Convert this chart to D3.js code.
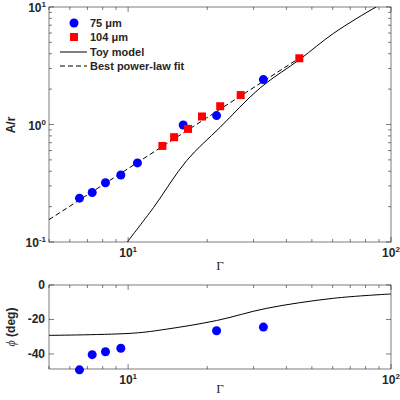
<!DOCTYPE html>
<html><head><meta charset="utf-8">
<script src="https://cdn.jsdelivr.net/npm/d3@7"></script>
<style>body{margin:0;background:#fff}svg{font-family:"Liberation Sans",Arial,sans-serif}</style>
</head><body>
<svg id="chart" width="400" height="400"></svg>
<script>
// 75 um data (amplitude)
var blueG = [6.53, 7.3, 8.2, 9.38, 10.85, 16.2, 21.7, 32.7];
var blueA = [0.236, 0.264, 0.319, 0.372, 0.471, 0.99, 1.19, 2.41];
// 104 um data
var redG = [13.5, 14.96, 16.9, 19.1, 22.4, 26.8, 44.8];
var redA = [0.657, 0.78, 0.918, 1.17, 1.43, 1.78, 3.66];
// toy model
var toyG = [9.89, 12.48, 16.7, 22.4, 31.8, 45.1, 60.4, 88.1, 100];
var toyA = [0.099, 0.196, 0.493, 0.948, 2.05, 3.6, 5.96, 10.05, 11.6];
// power law fit end points
var fitG = [5, 45];
var fitA = [0.155, 3.7];
// phase
var phaseG = [6.53, 7.3, 8.2, 9.38, 21.7, 32.7];
var phaseV = [-49.2, -40.4, -38.7, -36.7, -26.5, -24.4];
var toyPhG = [5, 10.5, 14, 21.7, 33.7, 60.4, 100];
var toyPhV = [-29.2, -27.9, -25.6, -20.6, -13.5, -7.7, -5.2];

var svg = d3.select('#chart');
var left = 49, right = 391;
var x = d3.scaleLog().domain([5, 100]).range([left, right]);
var y = d3.scaleLog().domain([0.1, 10]).range([242, 7]);
var y2 = d3.scaleLinear().domain([-48.7, 0]).range([369, 285]);

function minorTicks(sc) {
    var out = [];
    var d = sc.domain();
    for (var e = -2; e < 3; e++) for (var k = 1; k < 10; k++) {
        var v = k * Math.pow(10, e);
        if (v > d[0] * 0.999 && v < d[1] * 1.001) out.push(v);
    }
    return out;
}
function sup(sel, v) {
    var e = Math.round(Math.log10(v));
    sel.text('10').append('tspan').attr('dy', -5).attr('font-size', 8).text(e);
}

function frame(ys, t, b, logY) {
    var g = svg.append('g').attr('stroke', '#262626').attr('stroke-width', 0.6);
    g.append('rect').attr('x', left).attr('y', t).attr('width', right - left).attr('height', b - t).attr('fill', 'none');
    minorTicks(x).forEach(function (v) {
        var L = [10, 100].indexOf(v) >= 0 ? 5 : 3;
        g.append('line').attr('x1', x(v)).attr('x2', x(v)).attr('y1', b).attr('y2', b - L);
        g.append('line').attr('x1', x(v)).attr('x2', x(v)).attr('y1', t).attr('y2', t + L);
    });
    var yt = logY ? minorTicks(ys) : [-40, -20, 0];
    yt.forEach(function (v) {
        var L = (!logY || [0.1, 1, 10].indexOf(v) >= 0) ? 5 : 3;
        g.append('line').attr('y1', ys(v)).attr('y2', ys(v)).attr('x1', left).attr('x2', left + L);
        g.append('line').attr('y1', ys(v)).attr('y2', ys(v)).attr('x1', right).attr('x2', right - L);
    });
    [10, 100].forEach(function (v) {
        svg.append('text').attr('x', x(v)).attr('y', b + 15).attr('text-anchor', 'middle')
            .attr('font-size', 12).attr('font-weight', 'bold').attr('fill', '#262626').call(sup, v);
    });
}

frame(y, 7, 242, true);
[0.1, 1, 10].forEach(function (v) {
    svg.append('text').attr('x', left - 3).attr('y', y(v) + 5).attr('text-anchor', 'end')
        .attr('font-size', 12).attr('font-weight', 'bold').attr('fill', '#262626').call(sup, v);
});
frame(y2, 285, 369, false);
[-40, -20, 0].forEach(function (v) {
    svg.append('text').attr('x', left - 4).attr('y', y2(v) + 4).attr('text-anchor', 'end')
        .attr('font-size', 12).attr('font-weight', 'bold').attr('fill', '#262626').text(v);
});

svg.append('clipPath').attr('id', 'ct').append('rect').attr('x', left).attr('y', 7).attr('width', right - left).attr('height', 235);
var line = d3.line().x(function (d) { return x(d[0]); }).y(function (d) { return y(d[1]); }).curve(d3.curveCatmullRom);
var topG = svg.append('g').attr('clip-path', 'url(#ct)');
topG.append('path').attr('d', line(d3.zip(fitG, fitA))).attr('fill', 'none').attr('stroke', '#000').attr('stroke-dasharray', '5,3');
topG.append('path').attr('d', line(d3.zip(toyG, toyA))).attr('fill', 'none').attr('stroke', '#000');
d3.zip(blueG, blueA).forEach(function (d) {
    svg.append('circle').attr('cx', x(d[0])).attr('cy', y(d[1])).attr('r', 4.5).attr('fill', '#0000ff');
});
d3.zip(redG, redA).forEach(function (d) {
    svg.append('rect').attr('x', x(d[0]) - 4).attr('y', y(d[1]) - 4).attr('width', 8).attr('height', 8).attr('fill', '#ff0000');
});

var line2 = d3.line().x(function (d) { return x(d[0]); }).y(function (d) { return y2(d[1]); }).curve(d3.curveCatmullRom);
svg.append('path').attr('d', line2(d3.zip(toyPhG, toyPhV))).attr('fill', 'none').attr('stroke', '#000');
d3.zip(phaseG, phaseV).forEach(function (d) {
    svg.append('circle').attr('cx', x(d[0])).attr('cy', y2(d[1])).attr('r', 4.5).attr('fill', '#0000ff');
});

// legend
var lg = svg.append('g').attr('font-size', 11).attr('font-weight', 'bold').attr('fill', '#262626');
lg.append('circle').attr('cx', 74).attr('cy', 23).attr('r', 4.5).attr('fill', '#0000ff');
lg.append('text').attr('x', 90).attr('y', 27).text('75 μm');
lg.append('rect').attr('x', 70).attr('y', 33).attr('width', 8).attr('height', 8).attr('fill', '#ff0000');
lg.append('text').attr('x', 90).attr('y', 41).text('104 μm');
lg.append('line').attr('x1', 60).attr('x2', 87).attr('y1', 52).attr('y2', 52).attr('stroke', '#000');
lg.append('text').attr('x', 90).attr('y', 56).text('Toy model');
lg.append('line').attr('x1', 60).attr('x2', 87).attr('y1', 66).attr('y2', 66).attr('stroke', '#000').attr('stroke-dasharray', '5,3');
lg.append('text').attr('x', 90).attr('y', 70).text('Best power-law fit');

// axis labels
svg.append('text').attr('transform', 'translate(15,125) rotate(-90)').attr('text-anchor', 'middle')
    .attr('font-size', 12).attr('font-weight', 'bold').attr('fill', '#262626').text('A/r');
svg.append('text').attr('x', 220).attr('y', 270).attr('text-anchor', 'middle')
    .attr('font-size', 13).attr('font-family', 'Liberation Serif').attr('fill', '#262626').text('Γ');
svg.append('text').attr('x', 220).attr('y', 393).attr('text-anchor', 'middle')
    .attr('font-size', 13).attr('font-family', 'Liberation Serif').attr('fill', '#262626').text('Γ');
var ph = svg.append('text').attr('transform', 'translate(15,327) rotate(-90)').attr('text-anchor', 'middle')
    .attr('font-size', 12).attr('font-weight', 'bold').attr('fill', '#262626');
ph.append('tspan').attr('font-family', 'Liberation Serif').attr('font-style', 'italic').attr('font-weight', 'normal').text('ϕ');
ph.append('tspan').text(' (deg)');
</script>
</body></html>
